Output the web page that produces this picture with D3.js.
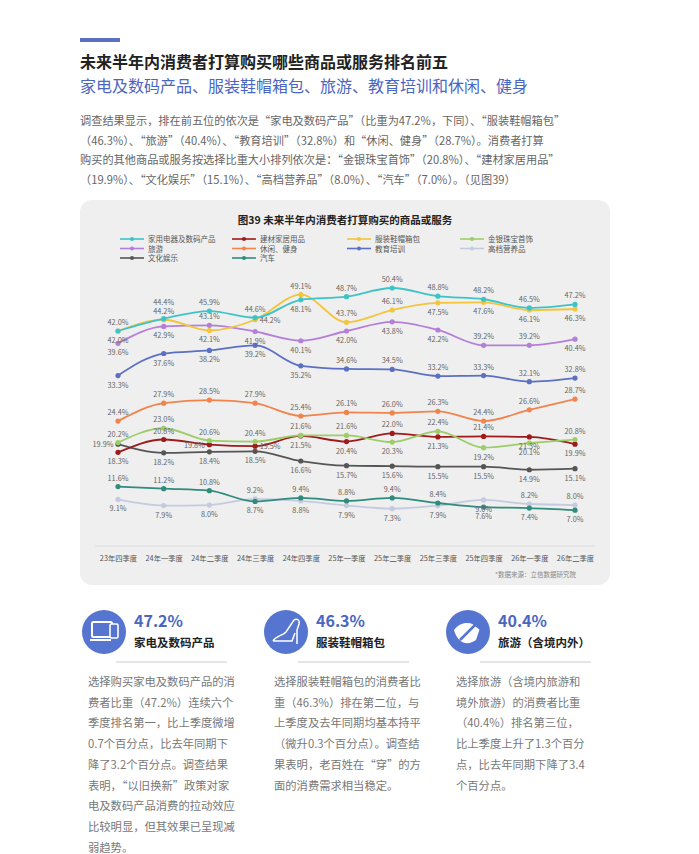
<!DOCTYPE html>
<html><head><meta charset="utf-8">
<script src="https://cdn.jsdelivr.net/npm/d3@7/dist/d3.min.js"></script>
<style>body{margin:0;background:#fff}svg{display:block;font-family:"Noto Sans CJK SC","Noto Sans",sans-serif}</style>
</head><body>
<script>
const quarters = ["23年四季度","24年一季度","24年二季度","24年三季度","24年四季度","25年一季度","25年二季度","25年三季度","25年四季度","26年一季度","26年二季度"]
const seriesNames = ["家用电器及数码产品","建材家居用品","服装鞋帽箱包","金银珠宝首饰","旅游","休闲、健身","教育培训","高档营养品","文化娱乐","汽车"]
const jiadian = [42.0,44.4,45.9,44.6,48.1,48.7,50.4,48.8,48.2,46.5,47.2]
const jiancai = [18.3,20.8,19.8,19.5,21.5,20.4,22.0,21.3,21.4,21.3,19.9]
const fuzhuang = [42.0,44.2,42.1,44.2,49.1,43.7,46.1,47.5,47.6,46.1,46.3]
const jinyin = [20.2,23.0,20.6,20.4,21.6,21.6,20.3,22.4,19.2,20.1,20.8]
const lvyou = [39.6,42.9,43.1,41.9,40.1,42.0,43.8,42.2,39.2,39.2,40.4]
const xiuxian = [24.4,27.9,28.5,27.9,25.4,26.1,26.0,26.3,24.4,26.6,28.7]
const jiaoyu = [33.3,37.6,38.2,39.2,35.2,34.6,34.5,33.2,33.3,32.1,32.8]
const gaodang = [9.1,7.9,8.0,9.2,8.8,7.9,7.3,7.9,9.0,8.2,8.0]
const wenhua = [19.9,18.2,18.4,18.5,16.6,15.7,15.6,15.5,15.5,14.9,15.1]
const qiche = [11.6,11.2,10.8,8.7,9.4,8.8,9.4,8.4,7.6,7.4,7.0]
const values = [jiadian,jiancai,fuzhuang,jinyin,lvyou,xiuxian,jiaoyu,gaodang,wenhua,qiche]
const colors = ["#3ec4c6","#9e1b1b","#f2c53d","#9ccd69","#b47fd9","#f0844c","#5b70c2","#c4cbe0","#555555","#2f8b7c"]
// label side per point: "u" above, "U" higher above, "d" below, "l" left, "r" right
const sides = [
  "uUuuduuuuuu",
  "dulrddududd",
  "dudruuudddd",
  "uuuuuududd u".replace(" ",""),
  "ddudddddu ud".replace(" ",""),
  "uuuuuuuuuuu",
  "dddddu uuuuu".replace(" ",""),
  "ddduddddduu".slice(0,10)+"u",
  "lddd ddddddd".replace(" ",""),
  "uuuduuuuddd"
]
const W = 699, H = 854
const svg = d3.select("body").append("svg").attr("width", W).attr("height", H)

// header
svg.append("rect").attr("x",80).attr("y",38).attr("width",40).attr("height",4).attr("fill","#5b70c2")
svg.append("text").attr("x",80).attr("y",68).attr("font-size",16).attr("font-weight","bold").attr("fill","#222").text("未来半年内消费者打算购买哪些商品或服务排名前五")
svg.append("text").attr("x",80).attr("y",92).attr("font-size",16).attr("fill","#4a66bf").text("家电及数码产品、服装鞋帽箱包、旅游、教育培训和休闲、健身")
const para = ["调查结果显示，排在前五位的依次是“家电及数码产品”（比重为47.2%，下同）、“服装鞋帽箱包”",
  "（46.3%）、“旅游”（40.4%）、“教育培训”（32.8%）和“休闲、健身”（28.7%）。消费者打算",
  "购买的其他商品或服务按选择比重大小排列依次是：“金银珠宝首饰”（20.8%）、“建材家居用品”",
  "（19.9%）、“文化娱乐”（15.1%）、“高档营养品”（8.0%）、“汽车”（7.0%）。（见图39）"]
para.forEach((t,i)=>svg.append("text").attr("x",80).attr("y",125+i*19.5).attr("font-size",11.2).attr("fill","#666").text(t))

// chart panel
svg.append("rect").attr("x",80).attr("y",200).attr("width",530).attr("height",385).attr("rx",12).attr("fill","#efefef")
svg.append("text").attr("x",345).attr("y",224).attr("text-anchor","middle").attr("font-size",10.5).attr("font-weight","bold").attr("fill","#222").text("图39 未来半年内消费者打算购买的商品或服务")
const legX = [120,232,347,460]
seriesNames.forEach((n,i)=>{
  const gx = legX[i%4], gy = 239 + Math.floor(i/4)*9.5
  svg.append("line").attr("x1",gx).attr("x2",gx+24).attr("y1",gy).attr("y2",gy).attr("stroke",colors[i]).attr("stroke-width",1.6)
  svg.append("circle").attr("cx",gx+12).attr("cy",gy).attr("r",2).attr("fill",colors[i])
  svg.append("text").attr("x",gx+28).attr("y",gy+3).attr("font-size",7.5).attr("fill","#555").text(n)
})
const x = d3.scalePoint().domain(quarters).range([118,575])
const y = d3.scaleLinear().domain([0,50.4]).range([546,288])
svg.append("line").attr("x1",95).attr("x2",595).attr("y1",546).attr("y2",546).attr("stroke","#ddd")
const ax = svg.append("g").attr("transform","translate(0,546)").call(d3.axisBottom(x).tickSize(0).tickPadding(10))
ax.select(".domain").remove()
ax.selectAll("text").attr("font-size",7.3).attr("fill","#555").attr("font-family","Noto Sans CJK SC")
svg.append("text").attr("x",576).attr("y",577).attr("text-anchor","end").attr("font-size",6.5).attr("fill","#888").text("*数据来源：立信数据研究院")

const line = d3.line().x((d,i)=>x(quarters[i])).y(d=>y(d)).curve(d3.curveMonotoneX)
const order = [7,9,8,1,3,5,6,4,2,0]
order.forEach(s=>{
  svg.append("path").datum(values[s]).attr("d",line).attr("fill","none").attr("stroke",colors[s]).attr("stroke-width",1.8)
  svg.selectAll(null).data(values[s]).join("circle").attr("cx",(d,i)=>x(quarters[i])).attr("cy",d=>y(d)).attr("r",2.6).attr("fill",colors[s])
})
const dx = {u:0,U:0,d:0,l:-15,r:15}
const dy = {u:-6,U:-14,d:12,l:3,r:3}
values.forEach((vals,s)=>{
  svg.selectAll(null).data(vals).join("text")
    .attr("x",(d,i)=>x(quarters[i])+dx[sides[s][i]]).attr("y",(d,i)=>y(d)+dy[sides[s][i]])
    .attr("text-anchor","middle").attr("font-size",7.3).attr("fill","#666").text(d=>d.toFixed(1)+"%")
})

// cards
const cardPct = ["47.2%","46.3%","40.4%"]
const cardName = ["家电及数码产品","服装鞋帽箱包","旅游（含境内外）"]
const cardText = [
  ["选择购买家电及数码产品的消","费者比重（47.2%）连续六个","季度排名第一，比上季度微增","0.7个百分点，比去年同期下","降了3.2个百分点。调查结果","表明，“以旧换新”政策对家","电及数码产品消费的拉动效应","比较明显，但其效果已呈现减","弱趋势。"],
  ["选择服装鞋帽箱包的消费者比","重（46.3%）排在第二位，与","上季度及去年同期均基本持平","（微升0.3个百分点）。调查结","果表明，老百姓在“穿”的方","面的消费需求相当稳定。"],
  ["选择旅游（含境内旅游和","境外旅游）的消费者比重","（40.4%）排名第三位，","比上季度上升了1.3个百分","点，比去年同期下降了3.4","个百分点。"]
]
const cardX = [82,264,446]
cardX.forEach((cx,i)=>{
  const g = svg.append("g").attr("transform",`translate(${cx},0)`)
  g.append("circle").attr("cx",22).attr("cy",632).attr("r",22).attr("fill","#5675d0")
  if(i===0){
    g.append("rect").attr("x",10).attr("y",622).attr("width",20).attr("height",15).attr("rx",1.5).attr("fill","none").attr("stroke","#fff").attr("stroke-width",2)
    g.append("rect").attr("x",28).attr("y",624).attr("width",8).attr("height",14).attr("rx",1.5).attr("fill","#5675d0").attr("stroke","#fff").attr("stroke-width",1.6)
    g.append("line").attr("x1",8).attr("x2",29).attr("y1",640).attr("y2",640).attr("stroke","#fff").attr("stroke-width",2)
  } else if(i===1){
    g.append("path").attr("d","M9,641 C12,636 18,636 22,632 L30,620 C33,618 36,620 35,624 L33,630 L33,644 M9,641 L28,641 L31,633").attr("fill","none").attr("stroke","#fff").attr("stroke-width",1.5)
  } else {
    g.append("path").attr("d","M8,630 C14,622 24,620 34,628 L30,640 C22,646 12,644 8,630 Z").attr("fill","#fff")
    g.append("path").attr("d","M14,640 L36,618 M26,622 L36,630").attr("stroke","#5675d0").attr("stroke-width",2.5)
  }
  g.append("text").attr("x",52).attr("y",627).attr("font-size",16).attr("font-weight","bold").attr("fill","#4a66bf").text(cardPct[i])
  g.append("text").attr("x",52).attr("y",647).attr("font-size",11.5).attr("font-weight","bold").attr("fill","#222").text(cardName[i])
  g.append("line").attr("x1",34).attr("x2",145).attr("y1",662).attr("y2",662).attr("stroke","#ddd").attr("stroke-width",1.5)
  cardText[i].forEach((t,j)=>g.append("text").attr("x",i===0?6:10).attr("y",686+j*20.7).attr("font-size",11.3).attr("fill","#777").text(t))
})
</script>
</body></html>
